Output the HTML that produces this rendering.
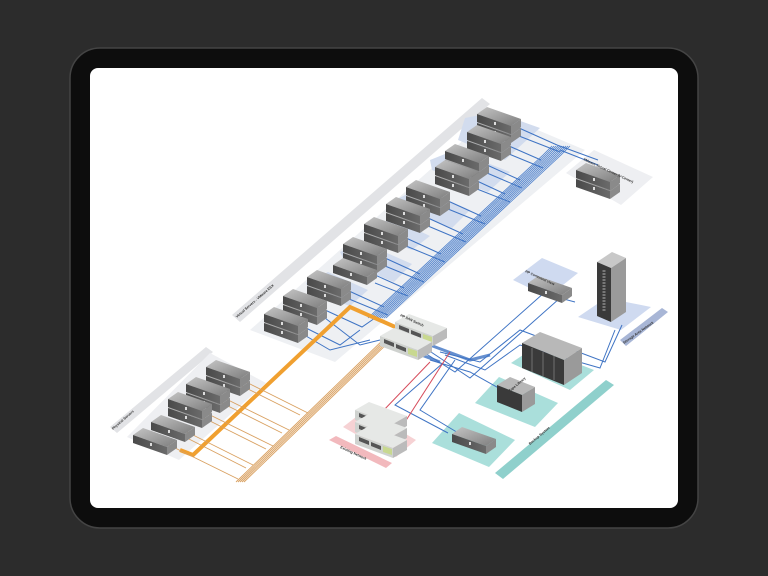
<!DOCTYPE html>
<html><head><meta charset="utf-8"><style>
html,body{margin:0;padding:0;background:#2c2c2c;width:768px;height:576px;overflow:hidden}
svg{display:block}
text{font-family:"Liberation Sans",sans-serif;fill:#333;font-weight:bold}
</style></head><body>
<svg width="768" height="576" viewBox="0 0 768 576" xmlns="http://www.w3.org/2000/svg">
<defs>
<linearGradient id="gt" x1="0" y1="0" x2="1" y2="1"><stop offset="0" stop-color="#c4c4c4"/><stop offset="1" stop-color="#7e7e7e"/></linearGradient>
<linearGradient id="gf" x1="0" y1="0" x2="1" y2="0"><stop offset="0" stop-color="#4a4a4a"/><stop offset="1" stop-color="#6a6a6a"/></linearGradient>
<g id="s1">
<polygon points="0,0 34,12 44,5 10,-7" fill="url(#gt)"/>
<polygon points="0,0 34,12 34,20 0,8" fill="url(#gf)"/>
<polygon points="34,12 44,5 44,13 34,20" fill="#8a8a8a"/>
<rect x="17" y="8" width="2" height="3" fill="#ddd"/>
</g>
<g id="s2"><use href="#s1" y="9"/><use href="#s1"/></g>
<g id="sw">
<polygon points="0,0 38,14 52,6 14,-8" fill="#e6e8e6"/>
<polygon points="0,0 38,14 38,24 0,10" fill="#cfd2cf"/>
<polygon points="38,14 52,6 52,16 38,24" fill="#bbb"/>
<polygon points="4,3 14,7 14,11 4,7" fill="#555"/><polygon points="16,8 26,12 26,16 16,12" fill="#555"/>
<polygon points="28,12 37,15 37,21 28,18" fill="#c8d890"/>
</g>
<g id="ln"><polyline points="372,318 547,155 556,146" fill="none" stroke="#4a7ecb" stroke-width="0.8"/></g>
<g id="lo"><line x1="385" y1="338" x2="236" y2="482" stroke="#d9a060" stroke-width="0.9"/></g>
</defs>

<rect x="70" y="48" width="628" height="480" rx="30" fill="#0d0d0d" stroke="#444" stroke-width="1.5"/>
<rect x="90" y="68" width="588" height="440" rx="8" fill="#ffffff"/>

<polygon points="232,315 482,98 490,104 240,322" fill="#e2e3e6"/>
<polygon points="250,330 495,112 585,150 335,362" fill="#eef0f3"/>
<polygon points="465,118 495,112 540,128 505,160 458,140" fill="#d2dcee"/>
<polygon points="430,160 455,150 510,172 488,192 432,170" fill="#d2dcee"/>
<polygon points="395,200 420,188 470,210 452,228 398,208" fill="#d2dcee"/>
<polygon points="372,228 392,218 430,236 412,250 372,236" fill="#d2dcee"/>
<polygon points="340,252 362,242 412,264 394,282 345,262" fill="#d2dcee"/>
<polygon points="306,283 328,272 368,290 350,306 310,292" fill="#d2dcee"/>
<polygon points="110,427 206,347 213,352 117,433" fill="#e2e3e6"/>
<polygon points="127,437 210,353 266,383 179,460" fill="#eeeff2"/>
<polygon points="566,173 594,150 653,177 621,205" fill="#eeeff2"/>
<polygon points="513,280 542,258 578,273 548,297" fill="#cfdaf0"/>
<polygon points="578,317 606,298 651,307 621,330" fill="#cfdaf0"/>
<polygon points="620,340 662,308 668,312 626,346" fill="#a8b6d6"/>
<polygon points="511,363 535,347 594,370 570,390" fill="#aadfdb"/>
<polygon points="475,403 499,377 558,403 535,427" fill="#aadfdb"/>
<polygon points="432,443 459,413 515,440 489,467" fill="#aadfdb"/>
<polygon points="495,473 606,380 614,385 503,479" fill="#8fd0cc"/>
<polygon points="343,427 365,410 416,440 396,457" fill="#f6d2d4"/>
<polygon points="329,440 336,436 392,463 386,468" fill="#f2b9bd"/>

<use href="#ln"/><use href="#ln" x="2"/><use href="#ln" x="4"/><use href="#ln" x="6"/><use href="#ln" x="8"/><use href="#ln" x="10"/><use href="#ln" x="12"/><use href="#ln" x="14"/><use href="#ln" x="-2"/><use href="#ln" x="-4"/>
<g fill="none" stroke="#3f74c4" stroke-width="1">
<polyline points="519,128 557,145 598,160"/><polyline points="519,136 560,152"/>
<polyline points="509,146 541,160"/><polyline points="509,154 543,168"/>
<polyline points="487,165 520,180"/><polyline points="487,173 522,188"/>
<polyline points="477,181 505,194"/><polyline points="477,189 510,202"/>
<polyline points="448,201 481,216"/><polyline points="448,209 485,224"/>
<polyline points="428,218 463,234"/><polyline points="428,226 466,242"/>
<polyline points="406,238 441,254"/><polyline points="406,246 445,262"/>
<polyline points="385,258 420,274"/><polyline points="385,266 424,282"/>
<polyline points="375,275 404,288"/><polyline points="375,283 408,296"/>
<polyline points="349,291 384,307"/><polyline points="349,299 388,315"/>
<polyline points="325,310 362,327 375,318"/><polyline points="325,318 360,345 380,340"/>
<polyline points="306,328 340,345 360,330"/><polyline points="306,336 330,350 370,340"/>
<polyline points="420,350 455,372 545,292"/>
<polyline points="425,348 470,378 560,298 575,302"/>
<polyline points="440,352 480,362 520,330 605,362 622,325"/>
<polyline points="445,355 485,370 520,345 600,368 615,330"/>
<polyline points="430,360 470,372 520,400"/>
<polyline points="443,363 395,405 448,433"/>
<polyline points="455,360 420,410 470,440"/>
<polyline points="560,150 598,165"/>
</g>
<g stroke="#3f74c4" stroke-width="3" fill="none" opacity="0.8">
<polyline points="430,345 470,360 490,355"/>
<polyline points="395,345 440,362"/>
</g>
<g fill="none" stroke="#d64a5a" stroke-width="1">
<polyline points="430,362 382,412"/><polyline points="450,352 405,422"/>
</g>

<polyline points="402,330 350,307 193,455 180,450" fill="none" stroke="#f0a030" stroke-width="4"/>
<use href="#lo"/><use href="#lo" x="2"/><use href="#lo" x="4"/><use href="#lo" x="6"/><use href="#lo" x="8"/>
<g stroke="#d9a060" stroke-width="0.9" fill="none">
<line x1="242" y1="380" x2="308" y2="413"/><line x1="242" y1="386" x2="300" y2="415"/>
<line x1="222" y1="397" x2="289" y2="430"/><line x1="222" y1="403" x2="282" y2="433"/>
<line x1="204" y1="412" x2="273" y2="446"/><line x1="204" y1="418" x2="266" y2="449"/>
<line x1="187" y1="432" x2="253" y2="465"/><line x1="187" y1="438" x2="246" y2="468"/>
<line x1="169" y1="445" x2="238" y2="479"/>
</g>

<use href="#s2" x="477" y="114"/><use href="#s2" x="467" y="132"/>
<use href="#s2" x="445" y="151"/><use href="#s2" x="435" y="167"/>
<use href="#s2" x="406" y="187"/><use href="#s2" x="386" y="204"/>
<use href="#s2" x="364" y="224"/><use href="#s2" x="343" y="244"/>
<use href="#s1" x="333" y="265"/><use href="#s2" x="307" y="277"/>
<use href="#s2" x="283" y="296"/><use href="#s2" x="264" y="314"/>
<use href="#s2" x="206" y="367"/><use href="#s2" x="186" y="384"/>
<use href="#s2" x="168" y="399"/><use href="#s1" x="151" y="422"/><use href="#s1" x="133" y="435"/>
<use href="#s2" x="576" y="170"/>
<use href="#s1" x="528" y="283"/>
<use href="#s1" x="452" y="434"/>

<use href="#sw" x="395" y="322"/><use href="#sw" x="380" y="336"/>
<use href="#sw" x="355" y="410"/><use href="#sw" x="355" y="422"/><use href="#sw" x="355" y="434"/>

<polygon points="597,262 612,252 626,258 611,268" fill="#c8c8c8"/>
<polygon points="597,262 611,268 611,322 597,316" fill="#3a3a3a"/>
<polygon points="611,268 626,258 626,312 611,322" fill="#9a9a9a"/>
<line x1="604" y1="270" x2="604" y2="312" stroke="#777" stroke-width="3" stroke-dasharray="2,1"/>
<polygon points="522,343 540,332 582,348 564,360" fill="#b8b8b8"/>
<polygon points="522,343 564,360 564,385 522,368" fill="#3a3a3a"/>
<polygon points="564,360 582,348 582,373 564,385" fill="#9a9a9a"/>
<g stroke="#888" stroke-width="0.7"><line x1="532" y1="348" x2="532" y2="372"/><line x1="543" y1="352" x2="543" y2="376"/><line x1="554" y1="356" x2="554" y2="380"/></g>
<polygon points="497,385 510,377 535,387 522,395" fill="#b8b8b8"/>
<polygon points="497,385 522,395 522,412 497,402" fill="#3a3a3a"/>
<polygon points="522,395 535,387 535,404 522,412" fill="#9a9a9a"/>

<g font-size="3.5">
<text transform="translate(237,318) rotate(-41)">Virtual Servers - VMware ESX</text>
<text transform="translate(113,430) rotate(-41)">Physical Servers</text>
<text transform="translate(583,160) rotate(25)">VMware Virtual Center (V-Center)</text>
<text transform="translate(525,272) rotate(25)">HP Command View</text>
<text transform="translate(624,344) rotate(-35)">Storage Area Network</text>
<text transform="translate(530,445) rotate(-40)">Backup System</text>
<text transform="translate(340,448) rotate(25)">Existing Network</text>
<text transform="translate(400,316) rotate(25)">HP SAN Switch</text>
<text transform="translate(510,392) rotate(-40)">Tape Library</text>
</g>
</svg>
</body></html>
